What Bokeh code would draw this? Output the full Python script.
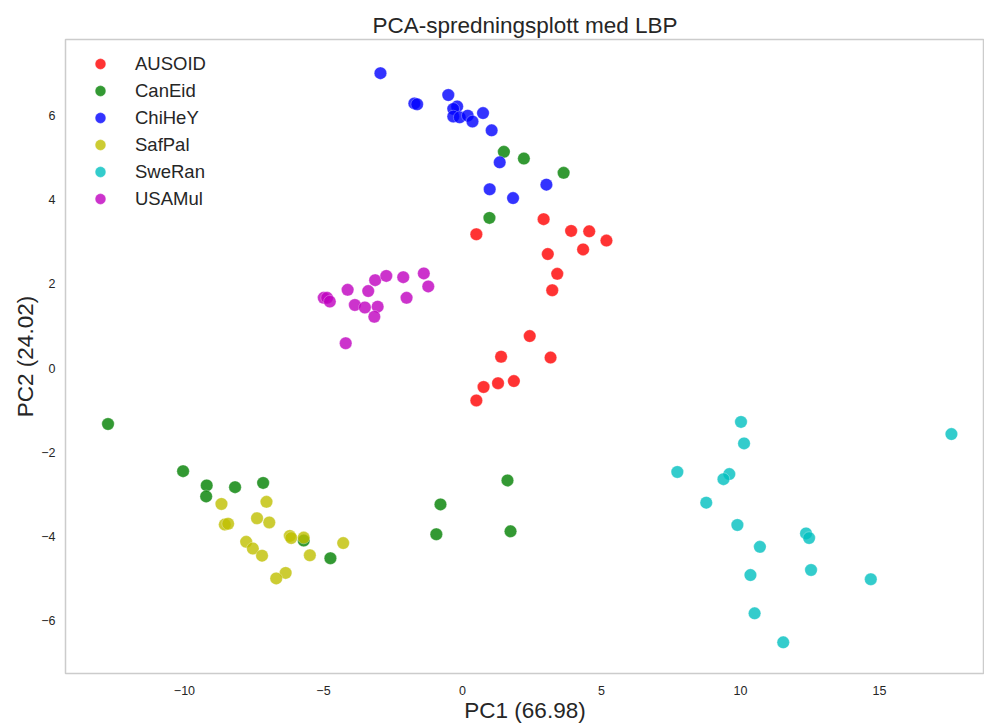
from bokeh.plotting import figure
from bokeh.models import Range1d, FixedTicker, Legend, LegendItem
from bokeh.embed import file_html
from bokeh.resources import INLINE

groups = ["AUSOID", "CanEid", "ChiHeY", "SafPal", "SweRan", "USAMul"]
colors = ["#ff0000", "#008000", "#0000ff", "#bfbf00", "#00bfbf", "#bf00bf"]

ausoid_x = [2.92, 0.50, 3.91, 4.56, 5.18, 4.34, 3.07, 3.41, 3.23, 2.42, 1.39, 3.17, 1.85, 1.28, 0.76, 0.50]
ausoid_y = [3.54, 3.18, 3.26, 3.25, 3.03, 2.82, 2.71, 2.24, 1.85, 0.76, 0.27, 0.25, -0.31, -0.36, -0.45, -0.77]

caneid_x = [1.49, 2.21, 3.64, 0.97, -12.75, -10.05, -9.20, -9.22, -8.18, -7.17, -5.71, -4.75, -0.79, -0.94, 1.62, 1.73]
caneid_y = [5.14, 4.98, 4.64, 3.57, -1.33, -2.45, -2.79, -3.05, -2.83, -2.73, -4.10, -4.52, -3.24, -3.95, -2.67, -3.88]

chihey_x = [-2.95, -1.73, -1.63, -0.51, -0.19, -0.33, -0.33, -0.10, 0.19, 0.36, 0.74, 1.05, 1.34, 0.98, 1.82, 3.02]
chihey_y = [7.01, 6.29, 6.27, 6.49, 6.22, 6.16, 5.98, 5.96, 6.00, 5.86, 6.06, 5.65, 4.89, 4.25, 4.04, 4.36]

safpal_x = [-8.67, -7.05, -7.39, -6.95, -8.55, -8.43, -7.78, -7.54, -7.21, -6.21, -6.16, -5.71, -5.49, -4.29, -6.36, -6.70]
safpal_y = [-3.23, -3.18, -3.57, -3.67, -3.72, -3.70, -4.13, -4.29, -4.46, -3.99, -4.04, -4.03, -4.45, -4.16, -4.87, -5.00]

sweran_x = [10.02, 10.13, 7.73, 9.60, 9.39, 8.77, 9.89, 12.36, 12.47, 10.70, 10.36, 12.54, 14.69, 10.51, 11.54, 17.59]
sweran_y = [-1.28, -1.79, -2.47, -2.52, -2.64, -3.20, -3.73, -3.93, -4.04, -4.25, -4.92, -4.80, -5.02, -5.83, -6.52, -1.57]

usamul_x = [-4.99, -4.87, -4.77, -4.13, -3.87, -3.51, -3.05, -3.17, -3.39, -3.14, -2.74, -2.13, -2.01, -1.39, -1.23, -4.20]
usamul_y = [1.67, 1.67, 1.58, 1.86, 1.50, 1.44, 1.46, 1.22, 1.83, 2.09, 2.19, 2.16, 1.67, 2.25, 1.94, 0.59]

xs = [ausoid_x, caneid_x, chihey_x, safpal_x, sweran_x, usamul_x]
ys = [ausoid_y, caneid_y, chihey_y, safpal_y, sweran_y, usamul_y]

x_ticks = [-10, -5, 0, 5, 10, 15]
y_ticks = [-6, -4, -2, 0, 2, 4, 6]

FONT = "Liberation Sans"
TXT = "#262626"

p = figure(width=984, height=725, output_backend="svg", toolbar_location=None,
           x_range=Range1d(-14.28, 18.78), y_range=Range1d(-7.26, 7.81),
           title="PCA-spredningsplott med LBP",
           min_border_left=65, min_border_right=0, min_border_top=39, min_border_bottom=50)

p.background_fill_color = "white"
p.border_fill_color = "white"
p.outline_line_color = "#cccccc"
p.outline_line_width = 1.5
p.xgrid.visible = False
p.ygrid.visible = False

p.title.text_font = FONT
p.title.text_font_size = "22.5px"
p.title.text_font_style = "normal"
p.title.text_color = TXT
p.title.align = "center"
p.title.offset = 10
p.title.standoff = 4

for ax in (p.xaxis[0], p.yaxis[0]):
    ax.axis_line_color = None
    ax.major_tick_line_color = None
    ax.minor_tick_line_color = None
    ax.major_tick_out = 0
    ax.major_tick_in = 0
    ax.minor_tick_out = 0
    ax.major_label_text_font = FONT
    ax.major_label_text_font_size = "12.5px"
    ax.major_label_text_color = TXT
    ax.axis_label_text_font = FONT
    ax.axis_label_text_font_size = "22.5px"
    ax.axis_label_text_font_style = "normal"
    ax.axis_label_text_color = TXT

p.xaxis.major_label_standoff = 12
p.xaxis.axis_label_standoff = 0
p.yaxis.major_label_standoff = 10
p.yaxis.axis_label_standoff = 0

p.xaxis.axis_label = "PC1 (66.98)"
p.yaxis.axis_label = "PC2 (24.02)"
p.xaxis.ticker = FixedTicker(ticks=x_ticks)
p.yaxis.ticker = FixedTicker(ticks=y_ticks)
p.xaxis.major_label_overrides = {t: (str(t).replace("-", "\u2212")) for t in x_ticks}
p.yaxis.major_label_overrides = {t: (str(t).replace("-", "\u2212")) for t in y_ticks}

items = []
for name, col, x, y in zip(groups, colors, xs, ys):
    r = p.scatter(x, y, size=12.5, fill_color=col, fill_alpha=0.8,
                  line_color="white", line_alpha=0.6, line_width=0.5)
    items.append(LegendItem(label=name, renderers=[r]))

legend = Legend(items=items, location="top_left")
legend.border_line_color = None
legend.background_fill_alpha = 0
legend.label_text_font = FONT
legend.label_text_font_size = "18.5px"
legend.label_text_color = TXT
legend.margin = 11
legend.padding = 6
legend.glyph_width = 48
legend.glyph_height = 27
legend.label_height = 27
legend.spacing = 0
legend.label_standoff = 11
p.add_layout(legend)

open("out.html", "w").write(file_html(p, INLINE))
